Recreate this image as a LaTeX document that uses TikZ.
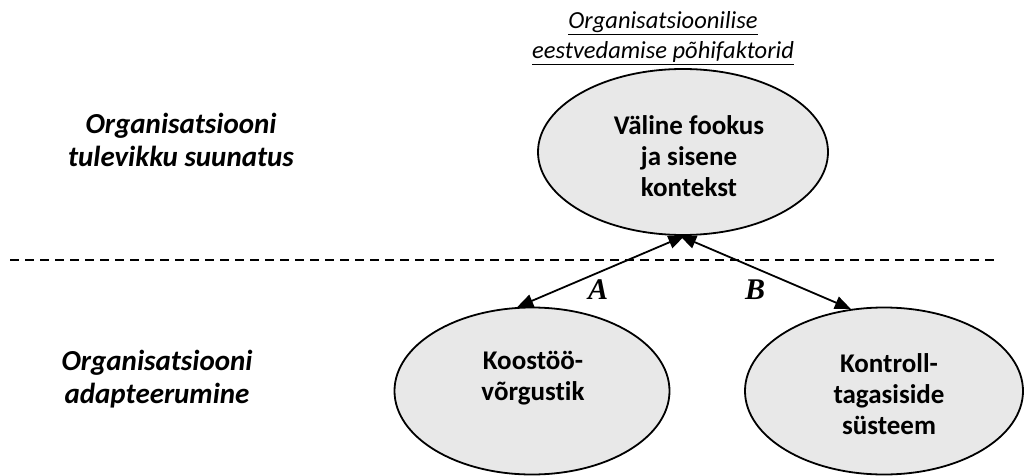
\documentclass[tikz,border=0pt]{standalone}
\usepackage{fontspec}
\setmainfont{Carlito}[Ligatures={NoCommon}]
\newfontfamily\timesfont{Liberation Serif}
\usetikzlibrary{shapes.geometric,arrows.meta}
\definecolor{ellfill}{HTML}{E8E8E8}
\tikzset{
  ell/.style={ellipse,draw=black,fill=ellfill,line width=1.8pt,inner sep=0pt},
  elltext/.style={align=center,font=\fontsize{27}{31}\selectfont\bfseries},
  sidetext/.style={align=center,font=\fontsize{29}{33}\selectfont\bfseries\itshape},
  lettertext/.style={font=\fontsize{30}{32}\selectfont\timesfont\bfseries\itshape},
  conn/.style={line width=1.8pt,{Triangle[length=16pt,width=13pt]}-{Triangle[length=16pt,width=13pt]}},
}
\begin{document}
\begin{tikzpicture}[x=1pt,y=-1pt]
\useasboundingbox (0,0) rectangle (1026,476);
% heading
\node[align=center,font=\fontsize{24.5}{30}\selectfont\itshape] (head) at (663,38)
  {\underline{Organisatsioonilise}\\\underline{eestvedamise põhifaktorid}};
% side labels
\node[sidetext] (side1) at (181,140) {Organisatsiooni\\tulevikku suunatus};
\node[sidetext] (side2) at (157,379) {Organisatsiooni\\adapteerumine};
% dashed divider
\coordinate (dl) at (10,260);
\coordinate (dr) at (998,260);
\draw[line width=1.6pt,dash pattern=on 9pt off 6pt] (dl) -- (dr);
% ellipses
\node[ell,minimum width=290pt,minimum height=166pt] (top) at (683,152) {};
\node[ell,minimum width=275pt,minimum height=167pt] (bl) at (532,391) {};
\node[ell,minimum width=278pt,minimum height=167pt] (br) at (884,391) {};
\node[elltext] (toptxt) at (689,156) {Väline fookus\\ja sisene\\kontekst};
\node[elltext] (bltxt) at (533,378) {Koostöö-\\võrgustik};
\node[elltext] (brtxt) at (889,394) {Kontroll-\\tagasiside\\süsteem};
% connectors
\draw[conn] (top.271) -- (bl.100);
\draw[conn] (top.268) -- (br.112);
\node[lettertext] (la) at (598,290) {A};
\node[lettertext] (lb) at (755,290) {B};
\end{tikzpicture}
\end{document}
